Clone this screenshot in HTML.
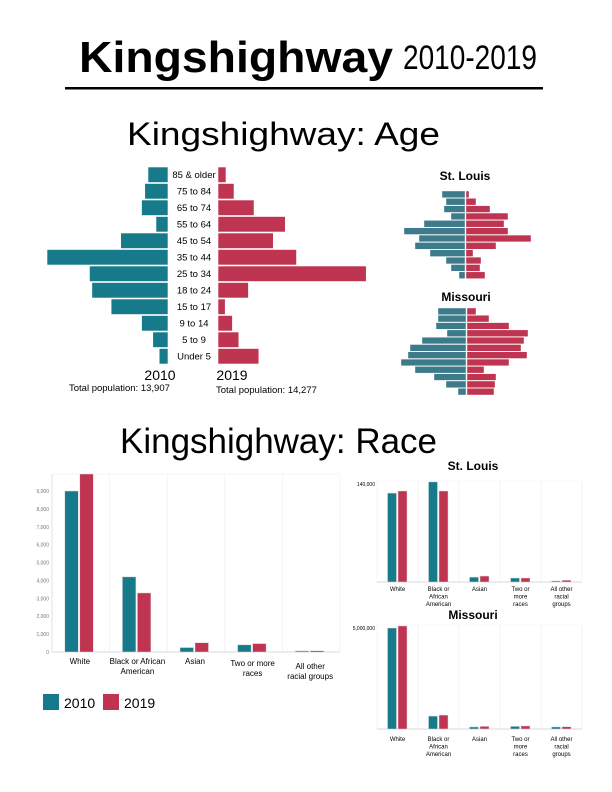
<!DOCTYPE html>
<html><head><meta charset="utf-8"><style>
html,body{margin:0;padding:0;background:#fff}
svg{display:block;font-family:"Liberation Sans",sans-serif}
</style></head><body>
<svg id="page" width="612" height="792" viewBox="0 0 612 792">
<text x="79" y="72" font-size="44" font-weight="bold" textLength="314" lengthAdjust="spacingAndGlyphs">Kingshighway</text>
<text x="403" y="69" font-size="34" textLength="134" lengthAdjust="spacingAndGlyphs">2010-2019</text>
<rect x="65" y="87" width="478" height="2.5" fill="#000"/>
<text x="127" y="145" font-size="32" textLength="313" lengthAdjust="spacingAndGlyphs">Kingshighway: Age</text>
<text x="120" y="453" font-size="35" textLength="317" lengthAdjust="spacingAndGlyphs">Kingshighway: Race</text>
<g id="g"></g>
</svg>
<script>
const ageGroups=["85 & older","75 to 84","65 to 74","55 to 64","45 to 54","35 to 44","25 to 34","18 to 24","15 to 17","9 to 14","5 to 9","Under 5"];
const kh2010=[250,290,330,150,590,1510,980,950,710,330,190,110];
const kh2019=[100,200,450,840,690,980,1850,380,90,180,260,510];
const stl2010=[23,19,21,14,41,61,46,50,35,19,14,6];
const stl2019=[3,10,24,42,38,42,65,30,7,15,14,19];
const mo2010=[28,28,30,19,44,56,58,65,51,32,20,8];
const mo2019=[9,22,42,61,57,54,60,42,17,29,28,27];
const raceCats=["White","Black or African American","Asian","Two or more races","All other racial groups"];
const race2010=[9000,4200,250,400,60];
const race2019=[9950,3300,520,470,70];
const raceTicks=[0,1000,2000,3000,4000,5000,6000,7000,8000,9000];
const stlRace2010=[127000,143000,7000,5700,1500];
const stlRace2019=[130000,130000,8500,5700,2500];
const moRace2010=[5000000,640000,100000,130000,100000];
const moRace2019=[5100000,690000,130000,150000,110000];
const T="#177a8a",R="#bf3450",NS="http://www.w3.org/2000/svg";
const G=document.getElementById('g');
function mk(tag,at,txt){const e=document.createElementNS(NS,tag);for(const k in at)e.setAttribute(k,at[k]);if(txt!==undefined)e.textContent=txt;G.appendChild(e);return e;}

// main pyramid
const kScale=v=>v*121/1510;
ageGroups.forEach((a,i)=>{
  const y=167+i*16.5;
  let w=kScale(kh2010[i]);
  let r=mk('rect',{x:168-w,y:y,width:w,height:15.5,fill:T,stroke:"#fff","stroke-width":0.6});
  
  
  w=kScale(kh2019[i]);
  r=mk('rect',{x:218,y:y,width:w,height:15.5,fill:R,stroke:"#fff","stroke-width":0.6});
  
  
  const t=mk('text',{x:194,y:y+11,"font-size":9.5,"text-anchor":"middle"},a);
  
  
});
[["2010",160,380,14,"middle"],["2019",232,380,14,"middle"],["Total population: 13,907",69,391,9.5,"start"],["Total population: 14,277",216,393,9.5,"start"]].forEach(d=>{
  const t=mk('text',{x:d[1],y:d[2],"font-size":d[3],"text-anchor":d[4]},d[0]);
  
  
});

// small pyramids
function miniPyr(title,ty,cx,top,pitch,L,Rv){
  const t=mk('text',{x:cx,y:ty,"font-size":12,"font-weight":"bold","text-anchor":"middle"},title);
  
  
  L.forEach((v,i)=>{
    const y=top+i*pitch;
    let r=mk('rect',{x:cx-v,y:y,width:v,height:pitch-0.6,fill:"#3d7a8a",stroke:"#fff","stroke-width":0.4});
    
    
    r=mk('rect',{x:cx+1,y:y,width:Rv[i],height:pitch-0.6,fill:R,stroke:"#fff","stroke-width":0.4});
    
    
  });
}
miniPyr("St. Louis",180,465,191,7.35,stl2010,stl2019);
miniPyr("Missouri",301,466,308,7.3,mo2010,mo2019);

// race main chart
const rx0=52,rx1=340,rBase=652,rPer=161/9000,laneW=(rx1-rx0)/5;
const ry=v=>rBase-v*rPer;
mk('line',{x1:rx0,y1:474,x2:rx1,y2:474,stroke:"#eee","stroke-width":0.6});
raceTicks.forEach(v=>{
  const t=mk('text',{x:rx0-3,y:ry(v)+2,"font-size":5,fill:"#777","text-anchor":"end"},v.toLocaleString('en-US'));
  
  
});
for(let k=0;k<=5;k++)mk('line',{x1:rx0+k*laneW,y1:474,x2:rx0+k*laneW,y2:rBase,stroke:k?"#eee":"#ccc","stroke-width":0.6});
mk('line',{x1:rx0,y1:rBase,x2:rx1,y2:rBase,stroke:"#ccc","stroke-width":0.7});
const raceLbl=[["White"],["Black or African","American"],["Asian"],["Two or more","races"],["All other","racial groups"]];
const lblDy=[0,0,0,2,5];
raceCats.forEach((c,i)=>{
  const cx=rx0+laneW*(i+0.5);
  let r=mk('rect',{x:cx-16,y:ry(race2010[i]),width:13.5,height:race2010[i]*rPer,fill:T,stroke:"#ddd","stroke-width":0.5});
  
  
  r=mk('rect',{x:cx-1,y:ry(race2019[i]),width:13.5,height:race2019[i]*rPer,fill:R,stroke:"#ddd","stroke-width":0.5});
  
  
  raceLbl[i].forEach((s,j)=>{
    const t=mk('text',{x:cx-1,y:664+lblDy[i]+j*10,"font-size":8,"text-anchor":"middle"},s);
    
    
  });
});
// legend
[[43,T,"2010",64],[103,R,"2019",124]].forEach(d=>{
  let r=mk('rect',{x:d[0],y:694,width:16,height:16,fill:d[1]});
  
  
  const t=mk('text',{x:d[3],y:708,"font-size":14},d[2]);
  
  
});

// small race charts
function miniRace(title,ty,top,base,maxV,topLbl,A,B,lblY){
  const x0=377,x1=582,lw=(x1-x0)/5,sc=(base-top)/maxV;
  const t=mk('text',{x:473,y:ty,"font-size":12,"font-weight":"bold","text-anchor":"middle"},title);
  
  
  for(let k=1;k<=5;k++)mk('line',{x1:x0+k*lw,y1:top-3,x2:x0+k*lw,y2:base,stroke:"#f0f0f0","stroke-width":0.6});
  mk('line',{x1:x0,y1:top-3,x2:x1,y2:top-3,stroke:"#f2f2f2","stroke-width":0.6});
  mk('line',{x1:x0,y1:top-3,x2:x0,y2:base,stroke:"#eee","stroke-width":0.6});
  mk('line',{x1:x0,y1:base,x2:x1,y2:base,stroke:"#ccc","stroke-width":0.7});
  const tl=mk('text',{x:x0-2,y:top+2,"font-size":5,"text-anchor":"end"},topLbl);
  
  
  const labs=[["White"],["Black or","African","American"],["Asian"],["Two or","more","races"],["All other","racial","groups"]];
  raceCats.forEach((c,i)=>{
    const cx=x0+lw*(i+0.5);
    let r=mk('rect',{x:cx-10,y:base-A[i]*sc,width:9,height:A[i]*sc,fill:T,stroke:"#ddd","stroke-width":0.5});
    
    
    r=mk('rect',{x:cx+0.5,y:base-B[i]*sc,width:9,height:B[i]*sc,fill:R,stroke:"#ddd","stroke-width":0.5});
    
    
    labs[i].forEach((s,j)=>{
      const tt=mk('text',{x:cx,y:lblY+j*7.5,"font-size":6,"text-anchor":"middle"},s);
      
      
    });
  });
}
miniRace("St. Louis",470,484,582,140000,"140,000",stlRace2010,stlRace2019,591);
miniRace("Missouri",619,628,729,5000000,"5,000,000",moRace2010,moRace2019,741);
</script>
</body></html>
